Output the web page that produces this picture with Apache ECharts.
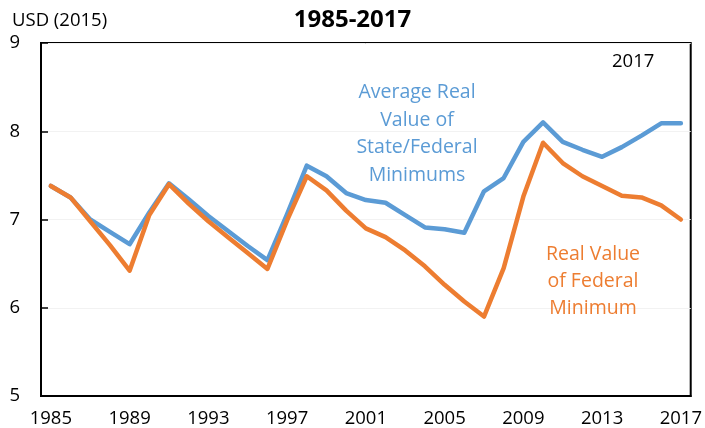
<!DOCTYPE html>
<html>
<head>
<meta charset="utf-8">
<script src="https://cdn.jsdelivr.net/npm/echarts@6/dist/echarts.min.js"></script>
<style>
  html, body { margin: 0; padding: 0; background: #fff; }
  #chart { width: 705px; height: 428px; }
</style>
</head>
<body>
<div id="chart"></div>
<script>
// years on the category axis
const years = []
for (let y = 1985; y <= 2017; y++) years.push(String(y))

// average real value of state/federal minimums (USD 2015)
const avgStateFederal = [
  7.38, 7.25, 7.00, 6.86, 6.72, 7.08, 7.41, 7.23, 7.04, 6.87, 6.70,
  6.54, 7.06, 7.61, 7.49, 7.30, 7.22, 7.19, 7.05, 6.91, 6.89, 6.85,
  7.32, 7.47, 7.88, 8.10, 7.88, 7.79, 7.71, 7.82, 7.95, 8.09, 8.09,
]
// real value of federal minimum (USD 2015)
const federalMin = [
  7.38, 7.25, 6.98, 6.71, 6.42, 7.05, 7.40, 7.18, 6.98, 6.80, 6.62,
  6.44, 6.99, 7.49, 7.33, 7.10, 6.90, 6.80, 6.65, 6.47, 6.26, 6.07,
  5.90, 6.45, 7.26, 7.87, 7.64, 7.49, 7.38, 7.27, 7.25, 7.16, 7.00,
]

const BLUE = '#5b9bd5'
const ORANGE = '#ed7d31'
const FONT = '"Open Sans", sans-serif'

const chart = echarts.init(document.getElementById('chart'))

chart.setOption({
  backgroundColor: '#fff',
  animation: false,
  title: {
    text: '1985-2017',
    left: 'center', top: 3,
    textStyle: { fontFamily: FONT, fontSize: 24, fontWeight: 'bold', color: '#000' },
  },
  grid: {
    left: 41, right: 13, top: 43, bottom: 32,
    show: true, borderColor: '#000', borderWidth: 2,
  },
  xAxis: {
    type: 'category',
    data: years,
    boundaryGap: true,
    axisLine: { lineStyle: { color: '#000', width: 2 } },
    axisTick: { inside: true, length: 7, interval: 3, alignWithLabel: false, lineStyle: { color: '#000', width: 1.5 } },
    axisLabel: { interval: 3, color: '#000', fontFamily: FONT, fontSize: 18.5, margin: 13 },
    splitLine: { show: false },
  },
  yAxis: {
    type: 'value',
    min: 5, max: 9, interval: 1,
    name: 'USD (2015)',
    nameLocation: 'end',
    nameGap: 13,
    nameTextStyle: { color: '#000', fontFamily: FONT, fontSize: 18.5, align: 'left', padding: [0, 0, 0, -29] },
    axisLine: { show: true, lineStyle: { color: '#000', width: 2 } },
    axisTick: { show: true, inside: true, length: 7, lineStyle: { color: '#000', width: 1.5 } },
    axisLabel: { color: '#000', fontFamily: FONT, fontSize: 18.5, margin: 21 },
    splitLine: { lineStyle: { color: '#f2f2f2', width: 1 } },
  },
  graphic: [
    {
      type: 'text', left: 612, top: 52, z: 100,
      style: { text: '2017', fill: '#000', font: '18.5px ' + FONT },
    },
    {
      type: 'text', x: 417, y: 79, z: 100,
      style: {
        text: 'Average Real\nValue of\nState/Federal\nMinimums',
        fill: BLUE, font: '19.5px ' + FONT, align: 'center', lineHeight: 27.5,
      },
    },
    {
      type: 'text', x: 593, y: 241, z: 100,
      style: {
        text: 'Real Value\nof Federal\nMinimum',
        fill: ORANGE, font: '19.5px ' + FONT, align: 'center', lineHeight: 27,
      },
    },
  ],
  series: [
    {
      name: 'Average Real Value of State/Federal Minimums',
      type: 'line',
      data: avgStateFederal,
      symbol: 'none',
      lineStyle: { color: BLUE, width: 4.5, cap: 'round', join: 'round' },
    },
    {
      name: 'Real Value of Federal Minimum',
      type: 'line',
      data: federalMin,
      symbol: 'none',
      lineStyle: { color: ORANGE, width: 4.5, cap: 'round', join: 'round' },
    },
  ],
})
</script>
</body>
</html>
